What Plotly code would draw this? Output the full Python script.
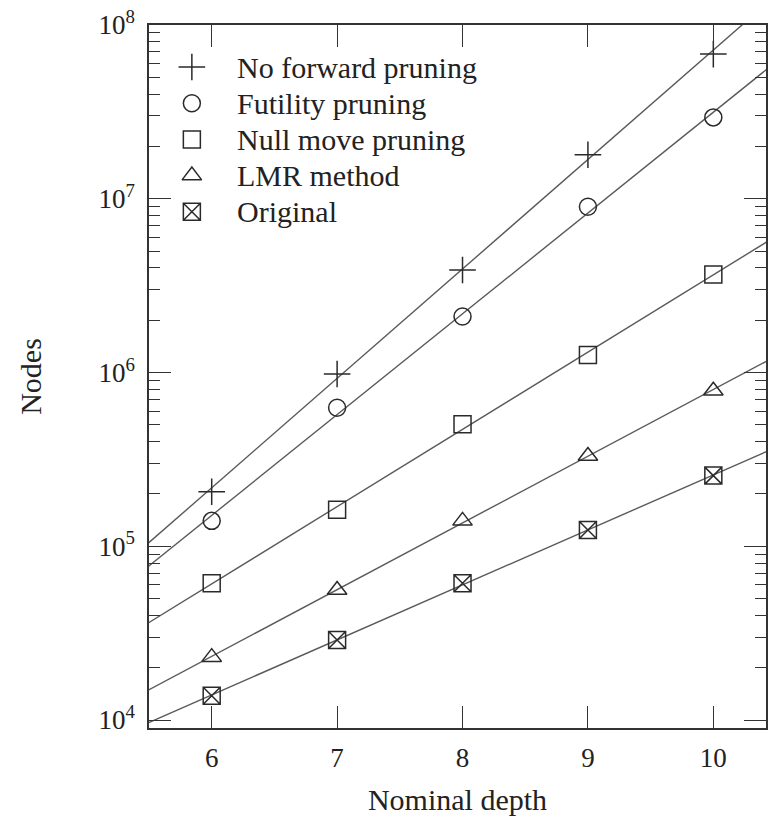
import numpy as np
import plotly.graph_objects as go

depths = [6, 7, 8, 9, 10]
no_forward = [2.06e5, 9.8e5, 3.89e6, 1.79e7, 6.8e7]
futility = [1.40e5, 6.27e5, 2.10e6, 9.0e6, 2.94e7]
null_move = [6.12e4, 1.62e5, 5.04e5, 1.26e6, 3.67e6]
lmr = [2.30e4, 5.60e4, 1.40e5, 3.31e5, 7.86e5]
original = [1.38e4, 2.89e4, 6.12e4, 1.24e5, 2.55e5]

series_names = ["No forward pruning", "Futility pruning", "Null move pruning", "LMR method", "Original"]
series_values = [no_forward, futility, null_move, lmr, original]
symbols = ["cross-thin-open", "circle-open", "square-open", "triangle-up-open", "square-x-open"]
sizes = [19, 17, 17, 17, 17]

ytick_vals = [1e4, 1e5, 1e6, 1e7, 1e8]
ytick_text = ["10<sup>4</sup>", "10<sup>5</sup>", "10<sup>6</sup>", "10<sup>7</sup>", "10<sup>8</sup>"]

X_RANGE = [5.5, 10.42]
Y_RANGE = [3.954, 8.0]

FONT = "Liberation Serif, Times New Roman, serif"
MARK = "#2a2a2a"
LINE = "#5a5a5a"
TXT = "#222"

W, H = 768, 816
ML, MR, MT, MB = 149, 0, 25, 88
PW, PH = W - ML - MR, H - MT - MB

fig = go.Figure()

# fitted exponential lines (least squares in log space)
fit_x = np.array([5.4, 10.6])
for vals in series_values:
    k, b = np.polyfit(depths, np.log10(vals), 1)
    fig.add_trace(go.Scatter(x=fit_x, y=10 ** (k * fit_x + b), mode="lines",
                             line=dict(color=LINE, width=1.4), showlegend=False,
                             hoverinfo="skip"))

for name, vals, sym, sz in zip(series_names, series_values, symbols, sizes):
    fig.add_trace(go.Scatter(x=depths, y=vals, mode="markers", name=name,
                             showlegend=False,
                             marker=dict(symbol=sym, size=sz, color=MARK,
                                         line=dict(color=MARK, width=1.5))))

# legend key drawn on an overlay axis (0..1 space)
leg_sym_x = (192 - ML) / PW
leg_txt_x = (235 - ML) / PW
leg_rows = [1 - (67 + 36.2 * i - MT) / PH for i in range(len(series_names))]
for i, (name, sym, sz) in enumerate(zip(series_names, symbols, sizes)):
    fig.add_trace(go.Scatter(x=[leg_sym_x], y=[leg_rows[i]], mode="markers",
                             xaxis="x2", yaxis="y2", showlegend=False, hoverinfo="skip",
                             marker=dict(symbol=sym, size=sz, color=MARK,
                                         line=dict(color=MARK, width=1.5))))
    fig.add_annotation(x=leg_txt_x, y=leg_rows[i], xref="paper", yref="paper",
                       text=name, showarrow=False, xanchor="left", yanchor="middle",
                       font=dict(size=30, family=FONT, color=TXT))

# minor y ticks
minor_vals = [m * 10 ** e for e in range(3, 8) for m in range(2, 10)]

fig.update_layout(
    width=W, height=H,
    margin=dict(l=ML, r=MR, t=MT, b=MB),
    paper_bgcolor="white", plot_bgcolor="white",
    font=dict(family=FONT, size=27, color=TXT),
    showlegend=False,
    xaxis2=dict(overlaying="x", range=[0, 1], visible=False, fixedrange=True),
    yaxis2=dict(overlaying="y", range=[0, 1], visible=False, fixedrange=True),
)
fig.layout.xaxis.update(range=X_RANGE, tickvals=depths, ticks="inside", ticklen=22,
                        tickwidth=1.3, tickcolor="#333", showline=True, linecolor="#333",
                        linewidth=1.5, mirror="ticks", showgrid=False, zeroline=False,
                        tickfont=dict(size=27, family=FONT),
                        title=dict(text="Nominal depth", font=dict(size=30, family=FONT), standoff=18),
                        ticklabelstandoff=5)
fig.layout.yaxis.update(type="log", range=Y_RANGE, tickvals=ytick_vals, ticktext=ytick_text,
                        ticks="inside", ticklen=22, tickwidth=1.3, tickcolor="#333",
                        showline=True, linecolor="#333", linewidth=1.5, mirror="ticks",
                        showgrid=False, zeroline=False,
                        minor=dict(tickvals=minor_vals, ticks="inside", ticklen=11,
                                   tickwidth=1.2, tickcolor="#333", showgrid=False),
                        tickfont=dict(size=27, family=FONT),
                        title=dict(text="Nodes", font=dict(size=30, family=FONT), standoff=48),
                        ticklabelstandoff=7)

fig.write_html("out.html", config={"displayModeBar": False},
               post_script="document.body.style.margin='0';document.body.style.overflow='hidden';")
